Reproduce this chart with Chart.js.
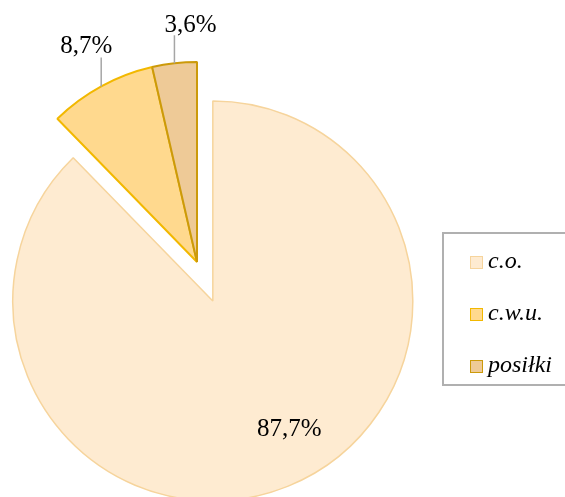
<!DOCTYPE html>
<html>
<head>
<meta charset="utf-8">
<script src="https://cdn.jsdelivr.net/npm/chart.js@4.4.1/dist/chart.umd.min.js"></script>
<style>
    html, body { margin: 0; padding: 0; background: #fff; overflow: hidden; }
    #wrap { position: relative; width: 565px; height: 497px; overflow: hidden; }
    #legend {
        position: absolute; left: 442px; top: 232px; width: 150px; height: 154px;
        border: 2px solid #B0B0B0; box-sizing: border-box;
        font: italic 24px 'Liberation Serif', serif; color: #000;
    }
    .legend-row { position: absolute; left: 26px; height: 26px; line-height: 26px; white-space: nowrap; }
    .legend-box { display: inline-block; width: 11px; height: 11px; border: 1.5px solid; margin-right: 5px; vertical-align: -1px; }
</style>
</head>
<body>
<div id="wrap">
    <canvas id="pie" width="565" height="497"></canvas>
    <div id="legend"></div>
</div>
<script>
"use strict";

const categories = ['c.o.', 'c.w.u.', 'posiłki'];
const shares = [87.7, 8.7, 3.6];

const fills = ['#FEEBD1', '#FFD98E', '#EECA97'];
const borders = ['#F6D49C', '#F2B800', '#CC9A0A'];

const fmt = (v) => v.toFixed(1).replace('.', ',') + '%';

// pie with exploded slices and Excel-like labels
const explodedPie = {
    id: 'explodedPie',
    beforeDatasetDraw(chart, args, opts) {
        const ctx = chart.ctx;
        args.meta.data.forEach((arc, i) => {
            const d = opts.explode[i] || 0;
            const mid = (arc.startAngle + arc.endAngle) / 2;
            ctx.save();
            ctx.translate(Math.cos(mid) * d, Math.sin(mid) * d);
            arc.draw(ctx, chart.chartArea);
            ctx.restore();
        });
        return false;
    },
    afterDatasetsDraw(chart, args, opts) {
        const ctx = chart.ctx;
        const arcs = chart.getDatasetMeta(0).data;
        ctx.save();
        ctx.font = opts.font;
        ctx.fillStyle = '#000';
        ctx.textAlign = 'center';
        ctx.textBaseline = 'alphabetic';
        arcs.forEach((arc, i) => {
            const spec = opts.labels[i];
            const d = opts.explode[i] || 0;
            const mid = (arc.startAngle + arc.endAngle) / 2;
            const cx = arc.x + Math.cos(mid) * d;
            const cy = arc.y + Math.sin(mid) * d;
            const text = fmt(shares[i]);
            if (spec.mode === 'inside') {
                const a = mid + spec.turn * Math.PI / 180;
                const r = arc.outerRadius * spec.r;
                ctx.fillText(text, cx + Math.cos(a) * r, cy + Math.sin(a) * r + 8);
            } else {
                const ex = cx + Math.cos(mid) * arc.outerRadius;
                const ey = cy + Math.sin(mid) * arc.outerRadius;
                ctx.strokeStyle = '#A6A6A6';
                ctx.lineWidth = 1.5;
                ctx.beginPath();
                ctx.moveTo(ex, ey);
                ctx.lineTo(ex, ey - spec.len);
                ctx.stroke();
                ctx.fillText(text, ex + spec.dx, ey - spec.len - spec.gap);
            }
        });
        ctx.restore();
    }
};

new Chart(document.getElementById('pie'), {
    type: 'pie',
    data: {
        labels: categories,
        datasets: [{
            data: shares,
            backgroundColor: fills,
            borderColor: borders,
            borderWidth: [1.5, 2, 2],
            hoverOffset: 0,
            clip: false
        }]
    },
    options: {
        responsive: false,
        animation: false,
        radius: 200,
        layout: { padding: { left: 0, right: 171, top: 27, bottom: 0 } },
        events: [],
        plugins: {
            legend: { display: false },
            tooltip: { enabled: false },
            explodedPie: {
                explode: [42, 0, 0],
                font: '25px "Liberation Serif", serif',
                labels: [
                    { mode: 'inside', r: 0.74, turn: -9 },
                    { mode: 'leader', len: 29, dx: -15, gap: 4 },
                    { mode: 'leader', len: 28, dx: 16, gap: 3 }
                ]
            }
        }
    },
    plugins: [explodedPie]
});

const legend = document.getElementById('legend');
categories.forEach((name, i) => {
    const row = document.createElement('div');
    row.className = 'legend-row';
    row.style.top = (13 + i * 52) + 'px';
    row.innerHTML = '<span class="legend-box" style="background:' + fills[i] +
        ';border-color:' + borders[i] + '"></span>' + name;
    legend.appendChild(row);
});
</script>
</body>
</html>
